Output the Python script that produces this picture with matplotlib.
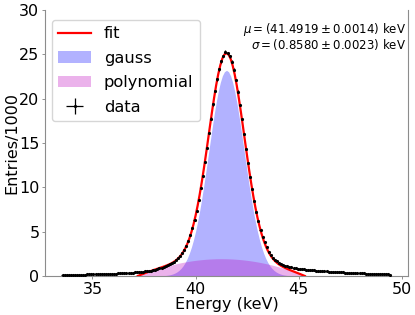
import numpy as np
import matplotlib
matplotlib.use("Agg")
import matplotlib.pyplot as plt

# histogram binning (keV)
bin_lo, bin_hi, n_bins = 33.5, 49.5, 160

# entries / 1000 per bin
data = [
    0.10, 0.11, 0.11, 0.12, 0.12, 0.13, 0.13, 0.14, 0.14, 0.15,
    0.15, 0.16, 0.17, 0.17, 0.18, 0.19, 0.19, 0.20, 0.21, 0.22,
    0.22, 0.23, 0.24, 0.25, 0.26, 0.27, 0.28, 0.29, 0.30, 0.31,
    0.33, 0.34, 0.36, 0.37, 0.39, 0.41, 0.43, 0.45, 0.47, 0.50,
    0.52, 0.55, 0.58, 0.62, 0.66, 0.71, 0.78, 0.86, 0.95, 1.04,
    1.13, 1.22, 1.33, 1.48, 1.62, 1.78, 1.98, 2.24, 2.55, 2.92,
    3.38, 3.93, 4.60, 5.39, 6.30, 7.36, 8.55, 9.88, 11.33, 12.85,
    14.48, 16.12, 17.76, 19.35, 20.85, 22.18, 23.30, 24.20, 24.82, 25.30,
    25.12, 24.80, 24.16, 23.26, 22.12, 20.78, 19.28, 17.68, 16.02, 14.36,
    12.74, 11.20, 9.76, 8.42, 7.22, 6.16, 5.24, 4.44, 3.78, 3.22,
    2.76, 2.38, 2.08, 1.84, 1.64, 1.48, 1.36, 1.25, 1.16, 1.08,
    1.02, 0.96, 0.92, 0.88, 0.84, 0.80, 0.77, 0.74, 0.72, 0.70,
    0.68, 0.66, 0.63, 0.61, 0.59, 0.57, 0.55, 0.53, 0.52, 0.50,
    0.49, 0.47, 0.46, 0.44, 0.43, 0.42, 0.40, 0.39, 0.38, 0.37,
    0.35, 0.34, 0.33, 0.32, 0.31, 0.30, 0.29, 0.28, 0.27, 0.26,
    0.25, 0.24, 0.23, 0.22, 0.21, 0.20, 0.19, 0.18, 0.17, 0.16,
]

# fit components on the fit range grid
fit_lo, fit_hi, n_fit = 37.2, 45.3, 82
gauss = [
    0.000, 0.000, 0.000, 0.000, 0.001, 0.001, 0.002, 0.004, 0.006, 0.009,
    0.014, 0.022, 0.034, 0.051, 0.077, 0.113, 0.164, 0.235, 0.333, 0.464,
    0.638, 0.868, 1.160, 1.533, 2.00, 2.57, 3.26, 4.08, 5.03, 6.13,
    7.36, 8.73, 10.20, 11.76, 13.38, 15.02, 16.63, 18.17, 19.58, 20.81,
    21.82, 22.58, 23.04, 23.20, 23.04, 22.58, 21.82, 20.81, 19.58, 18.17,
    16.63, 15.02, 13.38, 11.76, 10.20, 8.73, 7.36, 6.13, 5.03, 4.08,
    3.26, 2.57, 2.00, 1.533, 1.160, 0.868, 0.638, 0.464, 0.333, 0.235,
    0.164, 0.113, 0.077, 0.051, 0.034, 0.022, 0.014, 0.009, 0.006, 0.004,
    0.002, 0.001,
]
poly = [
    0.000, 0.095, 0.188, 0.278, 0.366, 0.452, 0.535, 0.616, 0.694, 0.770,
    0.844, 0.915, 0.984, 1.051, 1.115, 1.177, 1.236, 1.293, 1.348, 1.400,
    1.450, 1.498, 1.543, 1.586, 1.626, 1.664, 1.700, 1.733, 1.764, 1.793,
    1.819, 1.843, 1.864, 1.883, 1.900, 1.914, 1.926, 1.935, 1.943, 1.947,
    1.950, 1.950, 1.947, 1.943, 1.935, 1.926, 1.914, 1.900, 1.883, 1.864,
    1.843, 1.819, 1.793, 1.764, 1.733, 1.700, 1.664, 1.626, 1.586, 1.543,
    1.498, 1.450, 1.400, 1.348, 1.293, 1.236, 1.177, 1.115, 1.051, 0.984,
    0.915, 0.844, 0.770, 0.694, 0.616, 0.535, 0.452, 0.366, 0.278, 0.188,
    0.095, 0.000,
]

mu_txt = r"$\mu = (41.4919 \pm 0.0014)$ keV"
sigma_txt = r"$\sigma = (0.8580 \pm 0.0023)$ keV"

edges = np.linspace(bin_lo, bin_hi, n_bins + 1)
centers = 0.5 * (edges[1:] + edges[:-1])
data = np.array(data)
yerr = np.sqrt(data * 1000) / 1000  # poisson
x_fit = np.linspace(fit_lo, fit_hi, n_fit)
gauss = np.array(gauss)
poly = np.array(poly)

fig = plt.figure(figsize=(4.15, 3.15), dpi=100)
ax = fig.add_axes([0.1084, 0.1238, 0.8747, 0.8444])

ax.plot(x_fit, gauss + poly, color="red", lw=1.6, label="fit", zorder=3)
ax.fill_between(x_fit, gauss, color="blue", alpha=0.3, lw=0, label="gauss")
ax.fill_between(x_fit, poly, color="m", alpha=0.3, lw=0, label="polynomial")
ax.errorbar(centers, data, xerr=0.05, yerr=yerr, fmt="k.", ms=2.5,
            elinewidth=0.9, label="data", zorder=4)

ax.set_xlim(32.7, 50.3)
ax.set_ylim(0, 30)
ax.set_xticks([35, 40, 45, 50])
ax.set_xlabel("Energy (keV)", fontsize=11.5, labelpad=0)
ax.set_ylabel("Entries/1000", fontsize=11.5, labelpad=0)
ax.tick_params(labelsize=11.5, length=2.5, width=0.6, color="0.5", pad=1.5)
for s in ["left", "right", "bottom"]:
    ax.spines[s].set_color("0.55")
    ax.spines[s].set_linewidth(0.8)
ax.spines["top"].set_visible(False)

ax.legend(loc="upper left", fontsize=11.7, bbox_to_anchor=(0.01, 0.975),
          borderaxespad=0.2, handlelength=2.0, labelspacing=0.58)
ax.text(0.995, 0.958, mu_txt, transform=ax.transAxes,
        ha="right", va="top", fontsize=8.5)
ax.text(0.995, 0.897, sigma_txt, transform=ax.transAxes,
        ha="right", va="top", fontsize=8.5)

fig.savefig("out.png", dpi=100)
